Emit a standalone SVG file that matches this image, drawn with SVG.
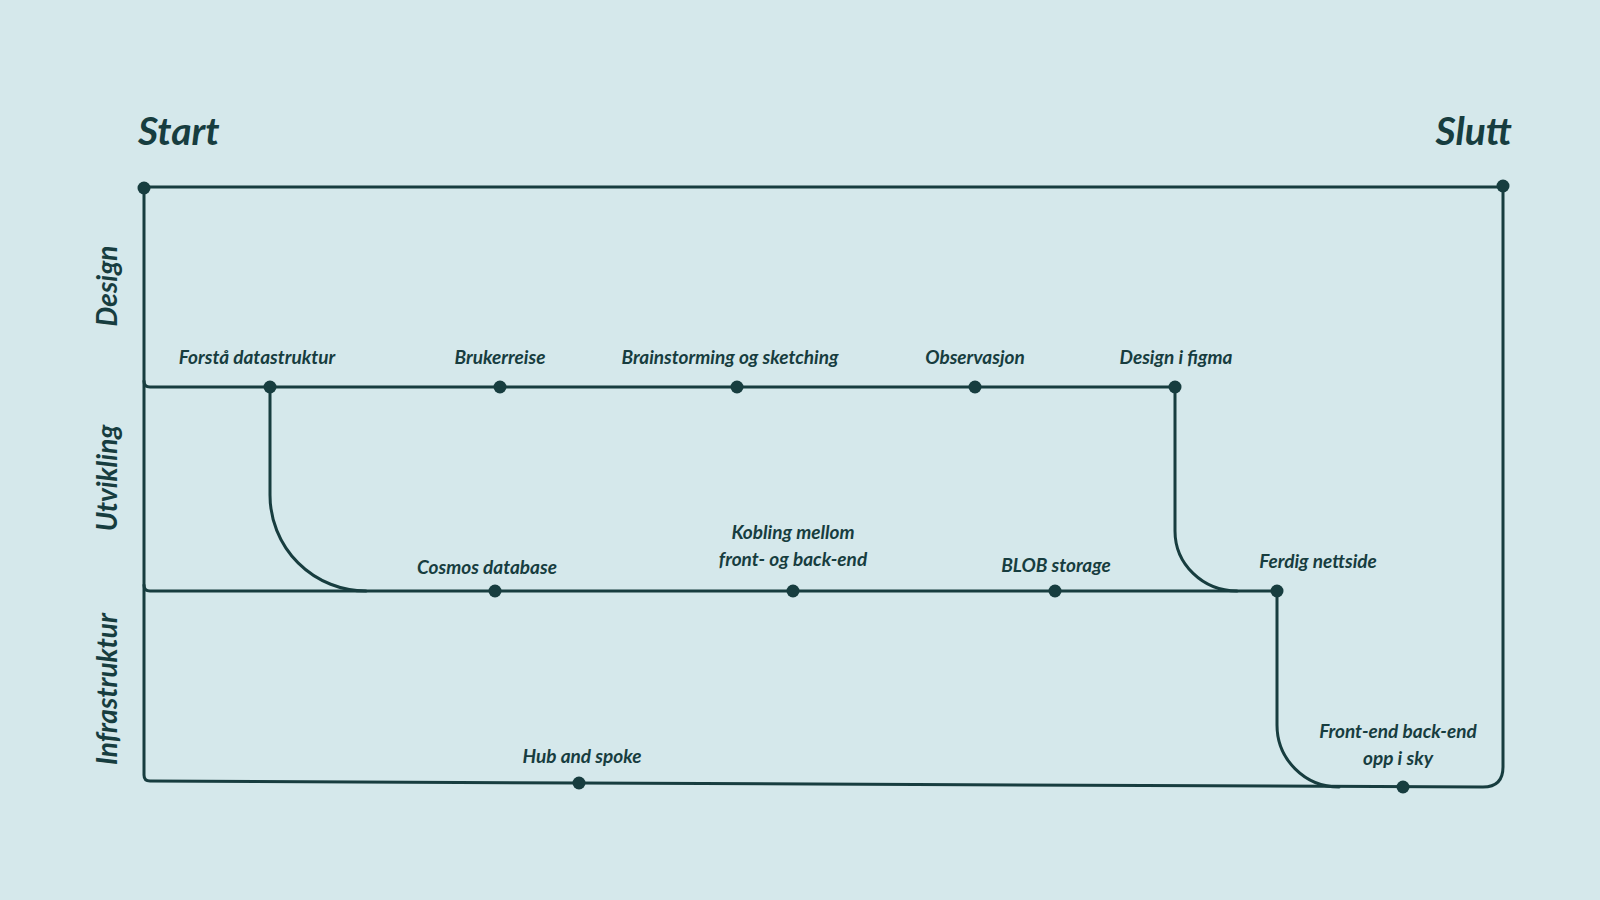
<svg xmlns="http://www.w3.org/2000/svg" width="1600" height="900" viewBox="0 0 1600 900">
<style>
.ln{fill:none;stroke:#173d3f;stroke-width:3;stroke-linecap:round;stroke-linejoin:round}
.dot{fill:#173d3f}
text{font-family:Lato,"Open Sans",sans-serif;font-style:italic;font-weight:bold;fill:#173d3f}
.lb{font-size:19px;text-anchor:middle}
.hd{font-size:39px}
.sd{font-size:28px;text-anchor:middle}
</style>
<rect width="1600" height="900" fill="#d5e8eb"/>
<text class="hd" x="138" y="145">Start</text>
<text class="hd" x="1512" y="145" text-anchor="end">Slutt</text>
<text class="sd" transform="translate(117,286) rotate(-90)">Design</text>
<text class="sd" transform="translate(117,478) rotate(-90)">Utvikling</text>
<text class="sd" transform="translate(117,689) rotate(-90)">Infrastruktur</text>
<g id="connectors">
<path class="ln" d="M144,187 H1503 V767 Q1503,787 1483,787 L579,783 L150,781 Q144,781 144,775 Z"/>
<path class="ln" d="M144,381 Q144,387 150,387 H1175"/>
<path class="ln" d="M144,585 Q144,591 150,591 H1277"/>
<path class="ln" d="M270,387 V495 A96,96 0 0 0 366,591"/>
<path class="ln" d="M1175,387 V531 A62,60 0 0 0 1237,591"/>
<path class="ln" d="M1277,591 V725 A62,62 0 0 0 1339,787"/>
</g>
<g id="n-start"><circle class="dot" cx="144" cy="188" r="6.5"/></g>
<g id="n-end"><circle class="dot" cx="1503" cy="186" r="6.5"/></g>
<g id="n1"><circle class="dot" cx="270" cy="387" r="6.5"/><text class="lb" x="257" y="364">Forstå datastruktur</text></g>
<g id="n2"><circle class="dot" cx="500" cy="387" r="6.5"/><text class="lb" x="500" y="364">Brukerreise</text></g>
<g id="n3"><circle class="dot" cx="737" cy="387" r="6.5"/><text class="lb" x="730" y="364">Brainstorming og sketching</text></g>
<g id="n4"><circle class="dot" cx="975" cy="387" r="6.5"/><text class="lb" x="975" y="364">Observasjon</text></g>
<g id="n5"><circle class="dot" cx="1175" cy="387" r="6.5"/><text class="lb" x="1176" y="364">Design i figma</text></g>
<g id="n6"><circle class="dot" cx="495" cy="591" r="6.5"/><text class="lb" x="487" y="574">Cosmos database</text></g>
<g id="n7"><circle class="dot" cx="793" cy="591" r="6.5"/><text class="lb" x="793" y="539">Kobling mellom</text><text class="lb" x="793" y="566">front- og back-end</text></g>
<g id="n8"><circle class="dot" cx="1055" cy="591" r="6.5"/><text class="lb" x="1056" y="572">BLOB storage</text></g>
<g id="n9"><circle class="dot" cx="1277" cy="591" r="6.5"/><text class="lb" x="1318" y="568">Ferdig nettside</text></g>
<g id="n10"><circle class="dot" cx="579" cy="783" r="6.5"/><text class="lb" x="582" y="763">Hub and spoke</text></g>
<g id="n11"><circle class="dot" cx="1403" cy="787" r="6.5"/><text class="lb" x="1398" y="738">Front-end back-end</text><text class="lb" x="1398" y="765">opp i sky</text></g>
</svg>
